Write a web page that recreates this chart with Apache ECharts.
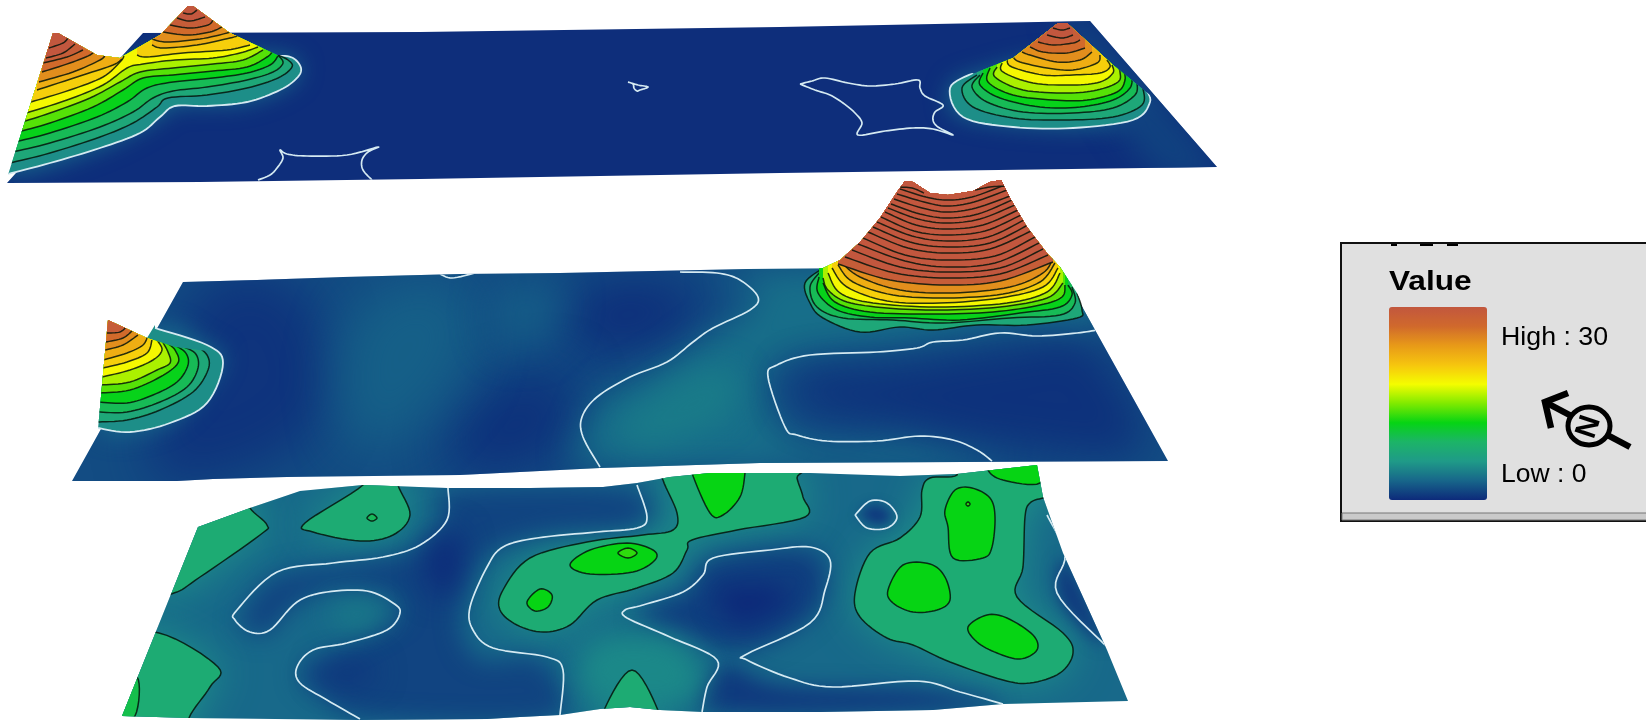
<!DOCTYPE html>
<html><head><meta charset="utf-8">
<style>html,body{margin:0;padding:0;background:#fff}#c{width:1646px;height:723px}#c canvas{filter:blur(.5px)}</style>
<script src="https://cdn.jsdelivr.net/npm/echarts@6/dist/echarts.min.js"></script>
</head><body><div id="c"></div>
<script>
const valueMin = 0, valueMax = 30;
const colorScale = ['#0d2a7a','#17668a','#1f9a88','#1cb468','#06d414','#7fea00','#f5fd00','#f6c50e','#e89a18','#d0692c','#c2573e'];
const legendTitle = 'Value', highLabel = 'High : 30', lowLabel = 'Low : 0';

/* ---------- sheets ---------- */
const topSheet = [[7,183],[143,33],[420,32],[780,27],[1090,21],[1217,167],[780,173],[420,179],[200,182]];
const midSheet = [[72,481],[183,282],[257,280],[343,277],[460,274],[560,273],[747,269],[1060,267],[1168,461],[760,463],[600,468],[460,475],[287,477],[213,479],[177,481]];
const lowSheet = [[122,716],[198,527],[250,508],[300,491],[363,485],[447,488],[530,488],[603,487],[637,483],[670,477],[710,473],[810,473],[900,476],[957,474],[1037,465],[1043,497],[1063,553],[1107,650],[1128,701],[1003,704],[933,710],[820,712],[703,712],[660,710],[630,707],[600,709],[560,715],[520,717],[487,719],[360,720],[190,718]];

/* ---------- top layer ---------- */
const topLeftOutline = [[7,178],[53,33],[58,33],[97,55],[120,58],[125,55],[160,35],[188,6],[193,6],[230,33],[277,55],[330,55],[330,190],[7,190]];
const topLeftContours = [
 [4,[[8,174],[50,163],[100,148],[140,133],[160,117],[175,106],[207,106],[247,102],[280,90],[297,78],[301,68],[293,58],[278,55]]],
 [6,[[10,163],[50,153],[100,137],[133,123],[157,107],[168,98],[207,95],[247,88],[278,78],[292,67],[288,60],[278,55]]],
 [8,[[13,152],[50,143],[100,127],[133,112],[153,98],[173,91],[207,87],[247,80],[273,72],[283,63],[278,55]]],
 [10,[[15,142],[50,133],[97,117],[127,102],[147,88],[173,82],[213,78],[247,73],[270,65],[278,56]]],
 [12,[[18,132],[50,123],[93,107],[123,90],[143,78],[173,75],[213,71],[247,67],[267,57],[272,52]]],
 [14,[[22,122],[50,113],[90,98],[120,82],[140,72],[173,68],[213,64],[243,60],[263,50]]],
 [16,[[26,113],[67,100],[103,85],[127,68],[143,64],[175,60],[213,58],[240,53],[258,47]]],
 [18,[[31,102],[70,90],[103,77],[120,62],[124,56]]],
 [18,[[137,55],[147,57],[183,53],[227,50],[250,45]]],
 [20,[[37,90],[83,75],[113,65],[122,59]]],
 [20,[[152,45],[163,48],[197,45],[230,38],[240,35]]],
 [22,[[39,82],[73,72],[100,60],[105,55]]],
 [22,[[152,39],[167,42],[200,39],[227,33],[233,30]]],
 [24,[[42,72],[70,63],[90,55],[95,50]]],
 [24,[[163,32],[187,35],[210,32],[222,27]]],
 [26,[[43,63],[67,57],[83,50]]],
 [26,[[170,25],[190,28],[208,25],[213,20]]],
 [28,[[46,58],[63,53],[75,44]]],
 [28,[[177,18],[190,21],[205,17]]],
 [30,[[49,48],[63,43],[68,38]]],
 [30,[[183,13],[191,14],[197,10]]]
];
const topRightOutline = [[1058,23],[1067,23],[1113,65],[1150,95],[1170,140],[930,140],[930,75],[975,73],[1013,58]];
const topRightContours = [
 [4,[[973,73],[950,88],[963,117],[1013,127],[1073,128],[1133,120],[1150,102],[1145,88]]],
 [6,[[977,75],[962,88],[973,107],[1013,118],[1063,120],[1113,117],[1142,105],[1143,88]]],
 [8,[[980,75],[972,87],[987,102],[1023,112],[1073,113],[1113,108],[1135,95],[1137,82]]],
 [10,[[983,73],[980,85],[1000,98],[1040,107],[1080,107],[1113,100],[1130,88],[1132,75]]],
 [12,[[990,68],[988,82],[1013,95],[1053,100],[1087,100],[1117,92],[1125,80],[1123,68]]],
 [14,[[997,67],[995,77],[1023,90],[1067,93],[1097,90],[1118,82],[1120,72],[1117,65]]],
 [16,[[1002,63],[1003,72],[1033,83],[1073,85],[1100,82],[1113,73],[1112,65]]],
 [18,[[1007,60],[1012,67],[1043,75],[1073,75],[1100,73],[1110,67],[1107,60]]],
 [20,[[1013,57],[1020,62],[1047,68],[1073,70],[1097,63],[1100,55]]],
 [22,[[1022,52],[1030,55],[1057,62],[1080,60],[1092,52]]],
 [24,[[1030,47],[1043,52],[1067,53],[1085,48]]],
 [26,[[1038,42],[1053,45],[1073,43],[1080,40]]],
 [28,[[1047,35],[1062,38],[1073,35]]],
 [30,[[1053,28],[1062,30],[1070,28]]]
];
const topBlobs = [
 [3,22,[[8,174],[100,148],[160,117],[175,106],[247,102],[297,78],[278,55],[120,60],[10,120]]],
 [3,22,[[950,88],[963,117],[1073,128],[1133,120],[1150,102],[1060,60],[980,73]]],
 [1.2,30,[[1090,21],[1217,167],[1150,167],[1060,21]]]
];
const topStar = [[800,84],[812,81],[825,78],[848,83],[870,86],[895,84],[918,80],[920,88],[925,96],[943,105],[935,112],[933,120],[938,127],[953,135],[933,129],[913,128],[885,131],[858,135],[862,123],[855,113],[843,103],[830,95],[815,90],[800,84]];
const topTriangle = [[628,82],[638,85],[648,87],[640,90],[637,91],[634,88],[633,84],[628,82]];
const topArch = [[258,180],[270,175],[277,168],[283,158],[280,150],[287,154],[307,156],[347,155],[378,147],[368,152],[362,160],[363,170],[372,180]];

/* ---------- middle layer ---------- */
const midPeakOutline = [[800,268],[823,268],[840,260],[860,242],[880,218],[897,192],[905,181],[913,182],[930,193],[948,195],[973,191],[990,182],[1001,180],[1010,198],[1027,227],[1047,253],[1060,267],[1077,293],[1100,335],[790,350]];
const midPeakContours = [
 [6,[[823,268],[805,283],[810,303],[823,318],[860,332],[900,327],[933,330],[977,325],[1027,325],[1077,318],[1082,310],[1077,293]]],
 [8,[[820,272],[810,287],[817,307],[843,318],[893,320],[943,323],[1010,318],[1060,315],[1075,303],[1072,287]]],
 [10,[[819,277],[818,293],[837,310],[870,317],[910,318],[960,320],[1020,313],[1060,307],[1072,295],[1068,285]]],
 [12,[[823,283],[835,302],[870,312],[933,314],[993,312],[1040,305],[1062,297],[1065,285]]],
 [14,[[823,278],[828,290],[847,302],[887,308],[940,310],[1000,307],[1047,298],[1063,283]]],
 [16,[[828,273],[840,293],[873,303],[937,307],[1007,303],[1047,292],[1060,273]]],
 [18,[[832,268],[847,287],[887,301],[940,303],[1000,298],[1043,287],[1058,268]]],
 [20,[[838,265],[853,282],[893,295],[947,298],[1003,294],[1040,282],[1055,263]]],
 [22,[[842,263],[860,277],[900,290],[953,293],[1010,287],[1043,273],[1053,258]]],
 [26,[[838,264],[890,280],[947,285],[1000,281],[1053,262]]],
 [28,[[845,257],[895,273],[947,278],[1000,274],[1048,255]]],
 [30,[[852,250],[900,267],[947,272],[1000,268],[1043,249]]],
 [30,[[858,244],[905,261],[947,267],[995,263],[1039,243]]],
 [30,[[863,238],[905,255],[947,260],[995,256],[1035,237]]],
 [30,[[868,232],[908,248],[947,253],[990,249],[1031,231]]],
 [30,[[873,227],[910,242],[947,247],[990,243],[1028,225]]],
 [30,[[877,222],[912,236],[947,241],[988,237],[1024,220]]],
 [30,[[881,217],[914,231],[947,235],[985,231],[1021,215]]],
 [30,[[885,212],[916,225],[947,229],[983,225],[1018,210]]],
 [30,[[888,208],[918,219],[947,223],[980,219],[1015,205]]],
 [30,[[891,204],[920,214],[947,218],[978,214],[1012,200]]],
 [30,[[894,199],[922,208],[947,212],[976,208],[1010,196]]],
 [30,[[897,194],[924,202],[947,206],[974,202],[1007,190]]],
 [30,[[900,189],[926,197],[947,200],[972,197],[1005,185]]],
 [30,[[898,187],[912,188],[924,193]]],
 [30,[[975,190],[990,187],[1006,186]]]
];
const midLeftOuter = [[108,320],[147,338],[155,325],[260,320],[260,440],[97,440],[102,385]];
const midLeftInner = [[108,320],[147,338],[175,347],[215,352],[260,440],[97,440],[102,385]];
const midLeftBase = [
 [4,[[98,428],[130,432],[170,423],[207,403],[223,363],[207,345],[155,328]]]
];
const midLeftContours = [
 [6,[[97,422],[127,420],[160,410],[193,392],[208,370],[207,355],[193,345],[173,342],[147,336]]],
 [8,[[98,412],[127,412],[160,402],[187,387],[198,368],[195,353],[178,345]]],
 [10,[[99,402],[127,403],[153,395],[177,382],[188,365],[185,352],[170,343]]],
 [12,[[100,393],[130,390],[160,377],[178,363],[175,350],[167,343]]],
 [14,[[101,385],[130,382],[157,370],[170,363],[168,352],[162,341]]],
 [16,[[102,377],[130,370],[153,360],[162,350],[157,340]]],
 [18,[[103,368],[127,362],[147,353],[152,340]]],
 [20,[[103,360],[127,353],[143,345],[148,335]]],
 [22,[[105,350],[123,345],[138,335]]],
 [24,[[106,342],[123,338],[133,330]]],
 [26,[[107,333],[120,332],[127,326]]]
];
const midBlobs = [
 [0.5,50,[[200,290],[300,290],[330,400],[260,465],[150,470]]],
 [0.2,50,[[590,285],[680,285],[700,320],[630,350],[570,340]]],
 [0.4,50,[[470,400],[560,370],[570,440],[520,470],[450,470]]],
 [2.7,50,[[380,290],[460,285],[470,360],[400,440],[350,440],[340,350]]],
 [2.6,40,[[500,290],[560,290],[540,340],[500,340]]],
 [3,22,[[98,428],[170,423],[223,363],[207,345],[155,328]]],
 [3.5,34,[[735,272],[1060,268],[1095,328],[1000,330],[933,340],[810,352],[775,362],[762,378],[780,430],[830,445],[920,440],[985,461],[605,466],[588,430],[600,400],[635,382],[675,360],[715,332],[755,305],[755,290]]],
 [0.4,40,[[800,375],[900,365],[1000,350],[1090,345],[1140,450],[1000,445],[900,425],[810,410]]],
 [4.2,30,[[620,425],[700,370],[740,380],[720,420],[650,445]]]
];
const midLineB = [[680,272],[717,273],[740,280],[758,297],[750,310],[713,328],[693,342],[667,362],[630,377],[597,397],[582,417],[583,437],[600,467]];
const midLineC = [[1097,330],[1077,333],[1037,336],[1000,333],[963,340],[933,342],[917,348],[877,352],[810,355],[777,365],[768,377],[785,427],[797,435],[827,441],[877,441],[920,436],[953,440],[977,450],[992,461]];
const midLineA = [[440,274],[452,278],[475,273]];

/* ---------- bottom layer ---------- */
const lowBlobs = [
 [1.3,25,[[450,490],[630,490],[640,525],[540,535],[480,560],[460,620],[480,660],[540,660],[555,718],[370,718],[320,695],[300,670],[350,645],[400,615],[395,600],[370,590],[330,590],[295,605],[265,635],[240,625],[245,610],[280,575],[385,558],[425,545],[445,520]]],
 [0,30,[[430,540],[460,535],[455,590],[430,590]]],
 [0.4,30,[[325,665],[370,665],[370,680],[325,680]]],
 [1,25,[[710,560],[810,550],[825,590],[800,625],[740,650],[660,630],[640,612],[690,590]]],
 [0,25,[[715,590],[770,585],[790,600],[740,625]]],
 [0.7,12,[[860,515],[875,505],[892,515],[880,525]]],
 [0.8,20,[[715,712],[725,665],[780,685],[920,690],[995,706]]],
 [0.8,15,[[1065,560],[1105,645],[1060,600]]],
 [4.8,30,[[330,610],[370,605],[385,615],[350,625]]],
 [5,30,[[590,640],[680,640],[700,700],[590,700]]]
];
const lowAreas = [
 [8,[[250,508],[267,525],[260,535],[200,577],[174,593],[150,590],[180,490],[245,490]]],
 [8,[[159,633],[218,667],[210,687],[189,718],[190,740],[100,740],[100,640]]],
 [8,[[363,485],[305,523],[313,532],[360,541],[393,535],[410,515],[398,485],[398,470],[363,470]]],
 [8,[[663,480],[677,513],[673,530],[643,535],[587,542],[530,558],[503,590],[500,610],[517,625],[543,632],[570,625],[597,600],[637,588],[673,573],[687,550],[692,540],[737,530],[805,517],[803,497],[797,478],[797,465],[663,465]]],
 [8,[[605,708],[632,670],[657,708],[657,730],[605,730]]],
 [8,[[957,475],[930,478],[922,490],[920,517],[900,538],[870,553],[855,593],[860,617],[887,638],[913,645],[950,662],[1003,680],[1030,683],[1060,673],[1073,653],[1063,633],[1017,597],[1023,567],[1025,517],[1030,503],[1043,498],[1060,495],[1060,455],[957,455]]]
];
const lowPeaks = [
 [10,[[137,677],[135,716],[110,730],[110,690]]],
 [9.5,[[367,518],[372,514],[377,518],[372,521]]],
 [12,[[570,565],[590,550],[627,543],[653,550],[655,560],[633,572],[590,574]]],
 [13,[[618,553],[628,548],[637,553],[628,558]]],
 [12,[[527,602],[540,589],[552,595],[548,607],[535,611]]],
 [12,[[692,473],[710,513],[723,515],[740,497],[745,473],[745,460],[692,460]]],
 [12,[[945,510],[955,490],[972,488],[990,498],[995,517],[992,547],[983,558],[953,558],[948,527]]],
 [13,[[966,504],[968,502],[970,504],[968,506]]],
 [12,[[888,590],[903,565],[930,564],[945,577],[950,600],[937,610],[913,612],[893,603]]],
 [12,[[968,627],[987,615],[1007,618],[1033,635],[1037,650],[1020,659],[997,653],[977,642]]],
 [12,[[988,470],[1003,480],[1040,483],[1045,455],[990,455]]]
];
const lowLineA = [[448,488],[447,520],[420,545],[383,557],[333,563],[277,572],[237,610],[235,620],[250,632],[270,630],[297,602],[327,592],[367,591],[393,603],[400,613],[387,630],[347,643],[313,650],[297,667],[300,683],[327,700],[360,719]];
const lowLineB = [[637,485],[647,517],[637,528],[597,532],[537,538],[503,547],[487,567],[470,607],[473,630],[493,648],[547,657],[563,670],[560,715]];
const lowLineC = [[1003,704],[960,692],[917,681],[833,687],[790,678],[747,660],[747,654],[810,623],[825,590],[830,560],[810,547],[770,550],[713,558],[703,575],[683,592],[643,605],[625,610],[627,618],[670,637],[717,660],[707,687],[702,712]];
const lowRing = [[855,515],[870,501],[887,503],[897,517],[887,528],[867,528],[855,515]];
const lowLineD = [[1047,515],[1065,555],[1057,593],[1105,645]];

/* ---------- drawing ---------- */
const WHITE = '#d5eaf2', DARK = 'rgba(5,20,10,0.85)', OFF = 3000;
const colorOf = l => echarts.color.lerp(Math.min(1, l / valueMax), colorScale);
function spline(p, closed) {
  if (p.length < 3) return p;
  const n = p.length, out = [];
  const at = i => closed ? p[(i + n) % n] : p[Math.max(0, Math.min(n - 1, i))];
  const segs = closed ? n : n - 1;
  for (let i = 0; i < segs; i++) {
    const a = at(i - 1), b = at(i), c = at(i + 1), d = at(i + 2);
    for (let k = 0; k < 8; k++) {
      const t = k / 8, t2 = t * t, t3 = t2 * t;
      out.push([0, 1].map(j => 0.5 * (2 * b[j] + (c[j] - a[j]) * t + (2 * a[j] - 5 * b[j] + 4 * c[j] - d[j]) * t2 + (3 * b[j] - a[j] - 3 * c[j] + d[j]) * t3)));
    }
  }
  if (!closed) out.push(p[n - 1]);
  return out;
}
function custom(items, clipPts, draw) {
  return {
    type: 'custom', coordinateSystem: 'cartesian2d', clip: false, silent: true, animation: false,
    data: items.map((_, i) => [i, 0]),
    renderItem(params, api) {
      const px = a => a.map(q => api.coord(q));
      const clip = clipPts ? { clipPath: { type: 'polygon', shape: { points: px(clipPts) } } } : {};
      return { type: 'group', children: draw(items[params.dataIndex], px).map(e => Object.assign(e, clip, { silent: true })) };
    }
  };
}
const sheet = (pts, lvl) => custom([pts], null, (p, px) => [{ type: 'polygon', shape: { points: px(p) }, style: { fill: colorOf(lvl) } }]);
const blobs = (list, clip) => custom(list, clip, (b, px) => {
  const c = colorOf(b[0]);
  return [{ type: 'polygon', shape: { points: spline(px(b[2]), true).map(q => [q[0] - OFF, q[1]]) },
    style: { fill: c, shadowColor: c, shadowBlur: b[1], shadowOffsetX: OFF } }];
});
const bands = (list, clip, white) => custom(list, clip, (b, px) => {
  const c = spline(px(b[1]), false), f = c[0], l = c[c.length - 1];
  return [
    { type: 'polygon', shape: { points: c.concat([[l[0], -20], [f[0], -20]]) }, style: { fill: colorOf(b[0] * 1.08 + 1) } },
    { type: 'polyline', shape: { points: c }, style: { fill: null, stroke: b[0] === white ? WHITE : DARK, lineWidth: b[0] === white ? 1.8 : 1.5 } }
  ];
});
const areas = (list, clip) => custom(list, clip, (b, px) => {
  const c = spline(px(b[1]), true);
  return [{ type: 'polygon', shape: { points: c }, style: { fill: colorOf(b[0]), stroke: DARK, lineWidth: 1.5 } }];
});
const halos = (list, clip, lvl, blur) => custom(list, clip, (b, px) => {
  const c = colorOf(lvl);
  return [{ type: 'polygon', shape: { points: spline(px(b[1]), true).map(q => [q[0] - OFF, q[1]]) },
    style: { fill: c, shadowColor: c, shadowBlur: blur, shadowOffsetX: OFF } }];
});
const lines = (list, clip) => custom(list, clip, (p, px) => [{ type: 'polyline', shape: { points: spline(px(p), false) },
  style: { fill: null, stroke: WHITE, lineWidth: 1.7, lineJoin: 'round' } }]);

const series = [
  sheet(topSheet, 0.2), blobs(topBlobs, topSheet),
  lines([topStar, topTriangle, topArch], topSheet),
  bands(topLeftContours, topLeftOutline, 4), bands(topRightContours, topRightOutline, 4),
  sheet(midSheet, 1.7), blobs(midBlobs, midSheet),
  lines([midLineA, midLineB, midLineC], midSheet),
  bands(midPeakContours, midPeakOutline, -1),
  bands(midLeftBase, midLeftOuter, 4), bands(midLeftContours, midLeftInner, 4),
  sheet(lowSheet, 3.2), halos(lowAreas, lowSheet, 5.5, 40), blobs(lowBlobs, lowSheet),
  areas(lowAreas, lowSheet), areas(lowPeaks, lowSheet),
  lines([lowLineA, lowLineB, lowLineC, lowRing, lowLineD], lowSheet)
];

const ink = '#000';
const chart = echarts.init(document.getElementById('c'));
chart.setOption({
  animation: false, backgroundColor: '#fff',
  grid: { left: 0, right: 0, top: 0, bottom: 0 },
  xAxis: { type: 'value', min: 0, max: 1646, show: false },
  yAxis: { type: 'value', min: 0, max: 723, inverse: true, show: false },
  visualMap: { type: 'continuous', min: valueMin, max: valueMax, left: 1389, top: 307, itemWidth: 98, itemHeight: 193,
    calculable: false, realtime: false, text: ['', ''], padding: 0, seriesIndex: 0, inRange: { color: colorScale }, hoverLink: false, z: 10 },
  graphic: [
    { type: 'rect', shape: { x: 1341, y: 243, width: 320, height: 278 }, style: { fill: '#e0e0e0', stroke: '#111', lineWidth: 2 }, z: 1, silent: true },
    { type: 'rect', shape: { x: 1342, y: 513, width: 320, height: 7 }, style: { fill: '#cacaca', stroke: '#777', lineWidth: 1 }, z: 1, silent: true },
    { type: 'rect', shape: { x: 1391, y: 244, width: 6, height: 2 }, style: { fill: ink }, z: 2, silent: true },
    { type: 'rect', shape: { x: 1420, y: 244, width: 13, height: 2 }, style: { fill: ink }, z: 2, silent: true },
    { type: 'rect', shape: { x: 1447, y: 244, width: 11, height: 2 }, style: { fill: ink }, z: 2, silent: true },
    { type: 'text', x: 1389, y: 283, scaleX: 1.17, style: { text: legendTitle, fill: ink, font: 'bold 27px "Liberation Sans"', verticalAlign: 'middle' }, z: 5, silent: true },
    { type: 'text', x: 1501, y: 338, scaleX: 1.07, style: { text: highLabel, fill: ink, font: '25px "Liberation Sans"', verticalAlign: 'middle' }, z: 5, silent: true },
    { type: 'text', x: 1501, y: 475, scaleX: 1.06, style: { text: lowLabel, fill: ink, font: '25px "Liberation Sans"', verticalAlign: 'middle' }, z: 5, silent: true },
    { type: 'polyline', shape: { points: [[1630, 447], [1545, 402]] }, style: { stroke: ink, lineWidth: 6.5, fill: null }, z: 5, silent: true },
    { type: 'polyline', shape: { points: [[1568, 393], [1545, 402], [1551, 428]] }, style: { stroke: ink, lineWidth: 6.5, fill: null }, z: 5, silent: true },
    { type: 'ellipse', shape: { cx: 1589, cy: 426, rx: 21, ry: 19 }, style: { fill: '#e0e0e0', stroke: ink, lineWidth: 5 }, z: 6, silent: true },
    { type: 'text', x: 1589, y: 427, rotation: 1.25, style: { text: 'N', fill: ink, font: 'bold 30px "Liberation Sans"', align: 'center', verticalAlign: 'middle' }, z: 7, silent: true }
  ],
  series
});
</script></body></html>
